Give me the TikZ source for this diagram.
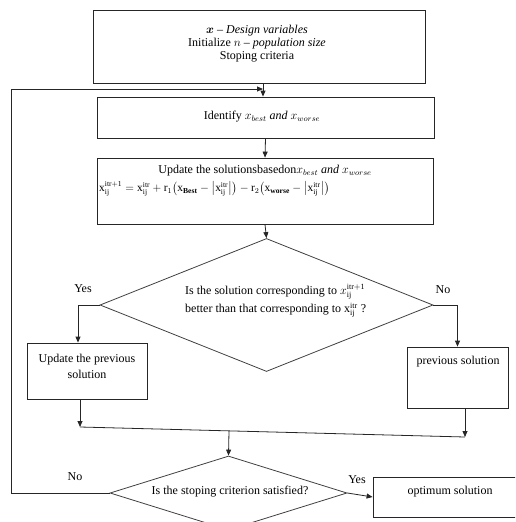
\documentclass[tikz,border=0pt]{standalone}
\usepackage{amsmath}
\usepackage{amssymb}
\usepackage{fontspec}
\setmainfont{Liberation Serif}
\usetikzlibrary{shapes.geometric,arrows.meta}
\begin{document}
\begin{tikzpicture}[x=1pt,y=-1pt,
  every node/.style={font=\fontsize{12}{13}\selectfont},
  box/.style={draw=black!85,line width=0.8pt,rectangle,inner sep=0pt},
  dia/.style={draw=black!75,line width=0.8pt,diamond,inner sep=0pt},
  txt/.style={inner sep=0pt},
  conn/.style={draw=black!85,line width=0.8pt},
  arr/.style={conn,-{Triangle[length=6pt,width=5pt]}}]
\useasboundingbox (0,0) rectangle (515,522);
\clip (0,0) rectangle (515,522);
% boxes
\node[box,minimum width=332pt,minimum height=73pt] (init) at (259,46.5) {};
\node[box,minimum width=337pt,minimum height=41pt] (ident) at (265.5,117.5) {};
\node[box,minimum width=336pt,minimum height=66pt] (upd) at (265,191) {};
\node[dia,minimum width=333pt,minimum height=133pt] (d1) at (266.5,305) {};
\node[box,minimum width=120pt,minimum height=56pt] (lbox) at (87,371) {};
\node[box,minimum width=101pt,minimum height=61pt] (rbox) at (457.5,377.5) {};
\node[dia,minimum width=237pt,minimum height=74pt] (d2) at (228.5,493) {};
\node[box,minimum width=150pt,minimum height=40pt] (opt) at (448,497) {};
% texts
\node[txt,align=center] (t1) at (257,44) {$\boldsymbol{x}$ -- \textit{Design variables}\\Initialize $n$ -- \textit{population size}\\Stoping criteria};
\node[txt] (t2) at (262,117) {Identify $x_{best}\ \mathit{and}\ x_{worse}$};
\node[txt] (t3) at (265,171) {Update the solutionsbasedon$x_{best}\ \mathit{and}\ x_{worse}$};
\node[txt,anchor=west,scale=0.95] (t4) at (99,189) {$\mathrm{x}_{\mathrm{ij}}^{\mathrm{itr+1}} = \mathrm{x}_{\mathrm{ij}}^{\mathrm{itr}} + \mathrm{r}_1\bigl(\mathrm{x}_{\mathbf{Best}} - \bigl|\mathrm{x}_{\mathrm{ij}}^{\mathrm{itr}}\bigr|\bigr) - \mathrm{r}_2\bigl(\mathrm{x}_{\mathbf{worse}} - \bigl|\mathrm{x}_{\mathrm{ij}}^{\mathrm{itr}}\bigr|\bigr)$};
\node[txt,anchor=west] (t5) at (185,292) {Is the solution corresponding to $x_{\mathrm{ij}}^{\mathrm{itr+1}}$};
\node[txt,anchor=west] (t6) at (185,310) {better than that corresponding to $\mathrm{x}_{\mathrm{ij}}^{\mathrm{itr}}$ ?};
\node[txt,align=center,font=\fontsize{12}{16}\selectfont] (t7) at (87,366) {Update the previous\\solution};
\node[txt] (t8) at (458,362) {previous solution};
\node[txt] (t9) at (230,492) {Is the stoping criterion satisfied?};
\node[txt] (t10) at (450,492) {optimum solution};
\node[txt] (yes1) at (83,289) {Yes};
\node[txt] (no1) at (443,290) {No};
\node[txt] (no2) at (75,477) {No};
\node[txt] (yes2) at (357,480) {Yes};
% connectors
\coordinate (loopL) at (11,493);
\coordinate (loopT) at (11,89);
\coordinate (join) at (263,89);
\coordinate (lx) at (78,305);
\coordinate (m1) at (80,427);
\coordinate (m2) at (465,437);
\coordinate (mid) at (229,431);
\draw[arr] (init.south -| join) -- (ident.north -| join);
\draw[arr] (d2.west) -- (loopL) -- (loopT) -- (join);
\draw[arr] (ident.south) -- (upd.north);
\draw[arr] (upd.south) -- (d1.north);
\draw[arr] (d1.west) -- (lx) -- (lx |- lbox.north);
\draw[arr] (d1.east) -| (rbox.north);
\draw[arr] (lbox.south -| m1) -- (m1);
\draw[arr] (rbox.south -| m2) -- (m2);
\draw[conn] (m1) -- (m2);
\draw[arr] (mid) -- (d2.north);
\draw[arr] (d2.east) -- (opt.west);
\end{tikzpicture}
\end{document}
